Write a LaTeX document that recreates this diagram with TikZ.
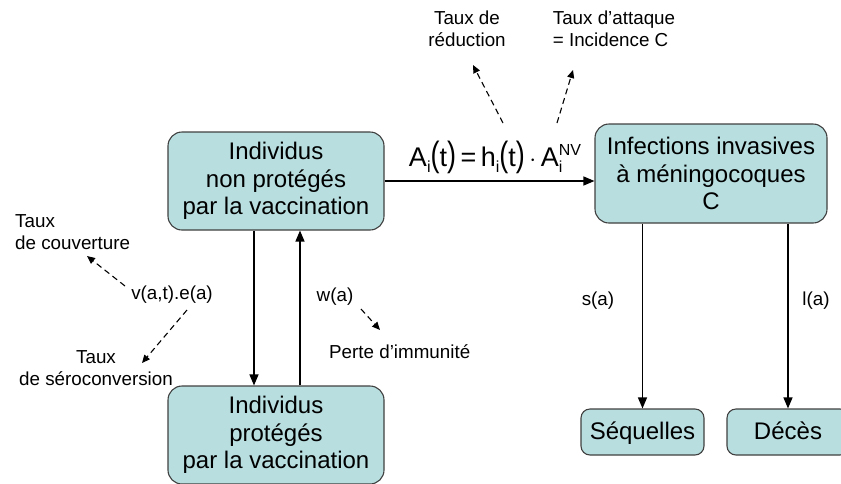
\documentclass[tikz,border=0pt]{standalone}
\usepackage{fontspec}
\setmainfont{Liberation Sans}
\usetikzlibrary{arrows.meta}
\definecolor{boxfill}{RGB}{184,222,224}
\definecolor{boxdraw}{RGB}{64,64,64}
\tikzset{
  box/.style={draw=boxdraw, fill=boxfill, line width=1.1pt, rounded corners=14pt,
    align=center, font=\fontsize{24}{27.7}\selectfont, inner sep=0pt},
  smallbox/.style={box, rounded corners=9pt, text height=17pt, text depth=2pt},
  flow/.style={line width=1.3pt, -{Triangle[length=11pt,width=9pt]}},
  hint/.style={line width=1.1pt, dash pattern=on 6pt off 4pt, -{Triangle[length=8pt,width=7pt]}},
  lbl/.style={font=\fontsize{18.8}{22}\selectfont, inner sep=0pt},
}
\newcommand{\eqsub}[1]{\raisebox{-6pt}{\fontsize{16}{16}\selectfont #1}}
\newcommand{\eqsup}[1]{\raisebox{11pt}{\fontsize{16}{16}\selectfont #1}}
\newcommand{\tallpar}[1]{\scalebox{1}[1.3]{#1}}
\begin{document}
\begin{tikzpicture}[x=1pt,y=-1pt]
\useasboundingbox (0,0) rectangle (841,483);
% boxes
\node[box, minimum width=216pt, minimum height=98pt] (np) at (276,181) {Individus\\non protégés\\par la vaccination};
\node[box, minimum width=216pt, minimum height=98pt] (pr) at (276,435) {Individus\\protégés\\par la vaccination};
\node[box, minimum width=232pt, minimum height=99pt] (iic) at (711,173.5) {Infections invasives\\à méningocoques\\C};
\node[smallbox, minimum width=123pt, minimum height=46pt] (seq) at (642.5,432) {Séquelles};
\node[smallbox, minimum width=122pt, minimum height=46pt] (dec) at (788,432) {Décès};
% main arrows
\draw[flow] ([xshift=-22pt]np.south) -- ([xshift=-22pt]pr.north);
\draw[flow] ([xshift=24pt]pr.north) -- ([xshift=24pt]np.south);
\draw[flow] (np.east) -- (np.east -| iic.west);
\draw[flow] (iic.south -| seq.north) -- (seq.north);
\draw[flow] (iic.south -| dec.north) -- (dec.north);
% equation
\node[inner sep=0pt, font=\fontsize{27}{30}\selectfont, anchor=base] (eq) at (495,166)
  {A\eqsub{i}\tallpar{(}t\tallpar{)}\,=\,h\eqsub{i}\tallpar{(}t\tallpar{)}\,$\cdot$\,A\rlap{\eqsub{i}}\eqsup{NV}};
% labels
\node[lbl, align=center] (red) at (467,29) {Taux de\\réduction};
\node[lbl, align=left] (att) at (614,29) {Taux d’attaque\\= Incidence C};
\node[lbl, align=left, anchor=west] (couv) at (15,232) {Taux\\de couverture};
\node[lbl] (v) at (172,295) {v(a,t).e(a)};
\node[lbl, align=center] (sero) at (96,368) {Taux\\de séroconversion};
\node[lbl] (w) at (335,297) {w(a)};
\node[lbl, anchor=west] (perte) at (329,352) {Perte d’immunité};
\node[lbl] (s) at (598,301) {s(a)};
\node[lbl] (l) at (816,301) {l(a)};
% dashed hints
\coordinate (r0) at (503,123); \coordinate (r1) at (473,65);
\coordinate (a0) at (557,123); \coordinate (a1) at (573,70);
\coordinate (c0) at (125,286); \coordinate (c1) at (87,256);
\coordinate (s0) at (187,310); \coordinate (s1) at (142,363);
\coordinate (w0) at (361,309); \coordinate (w1) at (380,330);
\draw[hint] (r0) -- (r1);
\draw[hint] (a0) -- (a1);
\draw[hint] (c0) -- (c1);
\draw[hint] (s0) -- (s1);
\draw[hint] (w0) -- (w1);
\end{tikzpicture}
\end{document}
